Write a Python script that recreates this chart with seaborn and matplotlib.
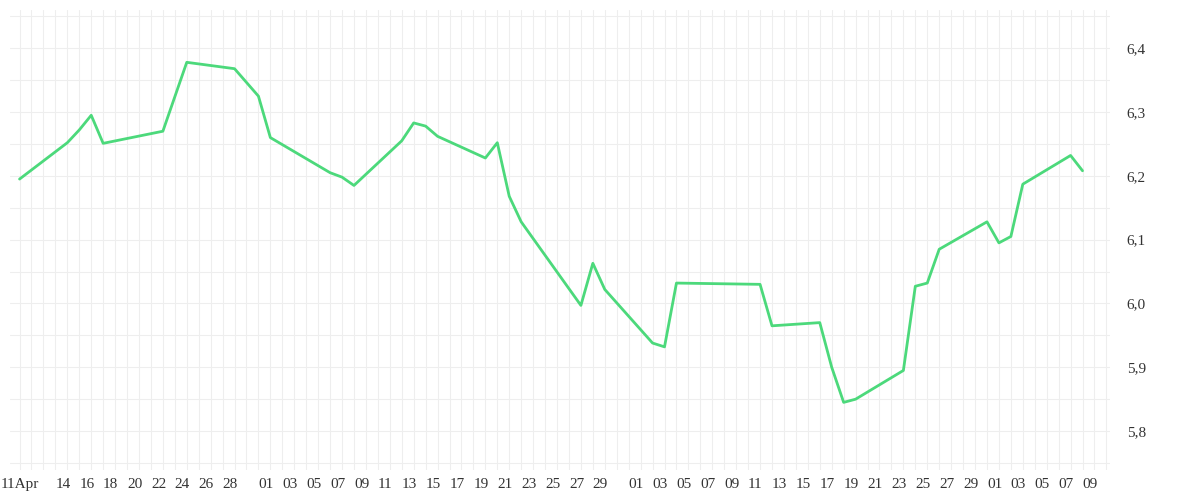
import matplotlib
matplotlib.use("Agg")
import matplotlib.pyplot as plt
import matplotlib.dates as mdates
import seaborn as sns
import pandas as pd
import numpy as np
from matplotlib.ticker import FuncFormatter, MultipleLocator

day_offsets = [0,4,5,6,7,12,14,18,20,21,26,27,28,32,33,34,35,39,40,41,42,47,48,49,53,54,55,62,63,67,68,69,70,74,75,76,77,81,82,83,84,88,89]
values = [6.195,6.252,6.272,6.295,6.251,6.270,6.378,6.368,6.325,6.260,6.205,6.198,6.185,6.255,6.283,6.278,6.262,6.228,6.252,6.168,6.128,5.997,6.063,6.022,5.938,5.932,6.032,6.030,5.965,5.970,5.900,5.845,5.850,5.895,6.027,6.032,6.085,6.128,6.095,6.105,6.187,6.232,6.208]
start = pd.Timestamp("2025-04-11")
dates = [start + pd.Timedelta(days=d) for d in day_offsets]
df = pd.DataFrame({"date": dates, "value": values})

sns.set_style("white")
plt.rcParams['font.family'] = ['Liberation Serif', 'DejaVu Serif']
fig = plt.figure(figsize=(12, 5), dpi=100)
ax = fig.add_axes([10/1200, 30/500, 1100/1200, 460/500])
sns.lineplot(data=df, x="date", y="value", ax=ax, color="#4cd97b", linewidth=2)

ax.set_xlim(start - pd.Timedelta(days=0.8), start + pd.Timedelta(days=91.3))
ax.set_ylim(5.739, 6.46)
all_days = pd.date_range(start, start + pd.Timedelta(days=91))
ax.set_xticks(mdates.date2num(all_days), minor=True)
ticks = []
for d in all_days[:90]:
    if d == start or d.day == 1:
        ticks.append(d)
    elif d.month == 4 and d.day % 2 == 0 and 14 <= d.day <= 28:
        ticks.append(d)
    elif d.month > 4 and d.day % 2 == 1 and d.day <= 29:
        ticks.append(d)
ax.set_xticks(mdates.date2num(ticks))
labels = ax.set_xticklabels(["11Apr" if d == start else f"{d.day:02d}" for d in ticks], fontsize=11, color="#333333")
for i, lab in enumerate(labels):
    lab.set_horizontalalignment("center" if i == 0 else "left")
ax.yaxis.set_major_locator(MultipleLocator(0.1))
ax.yaxis.set_minor_locator(MultipleLocator(0.05))
ax.yaxis.tick_right()
ax.yaxis.set_major_formatter(FuncFormatter(lambda v, p: f"{v:.1f}".replace(".", ",")))
ax.tick_params(axis="y", labelsize=11, colors="#333333", length=0, pad=12)
ax.tick_params(axis="x", length=0, pad=6)
ax.tick_params(which="minor", length=0)
ax.grid(True, which="both", color="#eeeeee", linewidth=0.8)
ax.set_xlabel("")
ax.set_ylabel("")
for s in ax.spines.values():
    s.set_visible(False)
fig.savefig("out.png", dpi=100)
